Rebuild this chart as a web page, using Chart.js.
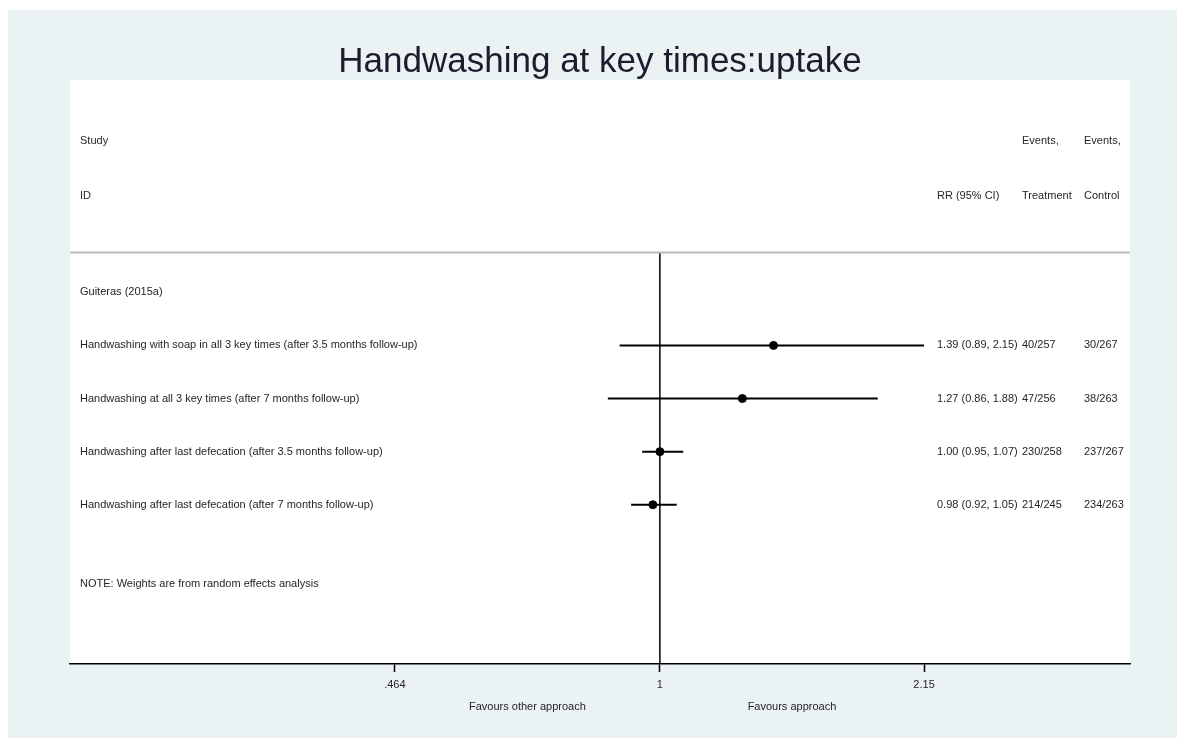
<!DOCTYPE html>
<html>
<head>
<meta charset="utf-8">
<title>Handwashing at key times:uptake</title>
<script src="https://cdn.jsdelivr.net/npm/chart.js@4.4.0/dist/chart.umd.min.js"></script>
<style>
  html, body { margin: 0; padding: 0; background: #fff; }
  #wrap { width: 1177px; height: 738px; position: relative; }
</style>
</head>
<body>
<div id="wrap"><canvas id="forest"></canvas></div>
<script>
// --- data ---
const studyName = 'Guiteras (2015a)';
const outcomes = [
    'Handwashing with soap in all 3 key times (after 3.5 months follow-up)',
    'Handwashing at all 3 key times (after 7 months follow-up)',
    'Handwashing after last defecation (after 3.5 months follow-up)',
    'Handwashing after last defecation (after 7 months follow-up)'
];
const rr = [1.39, 1.27, 1.00, 0.98];
const ciLow = [0.89, 0.86, 0.95, 0.92];
const ciHigh = [2.15, 1.88, 1.07, 1.05];
const eventsTreatment = ['40/257', '47/256', '230/258', '214/245'];
const eventsControl = ['30/267', '38/263', '237/267', '234/263'];
const tickValues = [0.464, 1, 2.15];
const tickLabels = ['.464', '1', '2.15'];
const favourLabels = ['Favours other approach', 'Favours approach'];
const noteText = 'NOTE: Weights are from random effects analysis';
const titleText = 'Handwashing at key times:uptake';

const X_MIN = 0.181, X_MAX = 3.905;
const Y_TOP = 11;
const SEP_Y = 7.75;
const FONT = '"Liberation Sans", Arial, sans-serif';

// rows go from the top down, first outcome on row 6
const rowY = i => 6 - i;

const datasets = [];

// grey line under the header
datasets.push({
    type: 'line',
    data: [{ x: X_MIN, y: SEP_Y }, { x: X_MAX, y: SEP_Y }],
    borderColor: '#b9b9b9', borderWidth: 2, pointRadius: 0
});

// line of no effect
datasets.push({
    type: 'line',
    data: [{ x: 1, y: 0 }, { x: 1, y: SEP_Y }],
    borderColor: '#000', borderWidth: 1.5, pointRadius: 0
});

// confidence intervals
outcomes.forEach((o, i) => {
    datasets.push({
        type: 'line',
        data: [{ x: ciLow[i], y: rowY(i) }, { x: ciHigh[i], y: rowY(i) }],
        borderColor: '#000', borderWidth: 2, pointRadius: 0
    });
});

// point estimates
datasets.push({
    type: 'scatter',
    data: rr.map((v, i) => ({ x: v, y: rowY(i) })),
    backgroundColor: '#000', borderColor: '#000', pointRadius: 4
});

const textPlugin = {
    id: 'forestText',
    beforeDraw(chart) {
        const { ctx, chartArea: a } = chart;
        ctx.save();
        ctx.fillStyle = '#fff';
        ctx.fillRect(0, 0, chart.width, chart.height);
        ctx.fillStyle = '#eaf2f3';
        ctx.fillRect(8, 10, chart.width - 8, chart.height - 10);
        ctx.fillStyle = '#fff';
        ctx.fillRect(a.left, a.top, a.right - a.left, a.bottom - a.top);
        ctx.restore();
    },
    afterDatasetsDraw(chart) {
        const { ctx, chartArea: a } = chart;
        const xs = chart.scales.x, ys = chart.scales.y;
        ctx.save();

        // title
        ctx.fillStyle = '#1c1c2c';
        ctx.font = '35px ' + FONT;
        ctx.textAlign = 'center';
        ctx.textBaseline = 'alphabetic';
        ctx.fillText(titleText, (a.left + a.right) / 2, 72);

        ctx.fillStyle = '#262626';
        ctx.font = '11px ' + FONT;
        ctx.textAlign = 'left';
        ctx.textBaseline = 'middle';

        const colLeft = a.left + 10;
        const colRR = a.left + 867;
        const colT = a.left + 952;
        const colC = a.left + 1014;

        // header
        ctx.fillText('Study', colLeft, ys.getPixelForValue(9.85));
        ctx.fillText('ID', colLeft, ys.getPixelForValue(8.82));
        ctx.fillText('Events,', colT, ys.getPixelForValue(9.85));
        ctx.fillText('Events,', colC, ys.getPixelForValue(9.85));
        ctx.fillText('RR (95% CI)', colRR, ys.getPixelForValue(8.82));
        ctx.fillText('Treatment', colT, ys.getPixelForValue(8.82));
        ctx.fillText('Control', colC, ys.getPixelForValue(8.82));

        ctx.fillText(studyName, colLeft, ys.getPixelForValue(7));

        outcomes.forEach((o, i) => {
            const y = ys.getPixelForValue(rowY(i));
            ctx.fillText(o, colLeft, y);
            const est = rr[i].toFixed(2) + ' (' + ciLow[i].toFixed(2) + ', ' + ciHigh[i].toFixed(2) + ')';
            ctx.fillText(est, colRR, y);
            ctx.fillText(eventsTreatment[i], colT, y);
            ctx.fillText(eventsControl[i], colC, y);
        });

        ctx.fillText(noteText, colLeft, ys.getPixelForValue(1.5));

        // favours labels, centred between the outer ticks and 1
        ctx.textAlign = 'center';
        const fy = a.bottom + 43;
        ctx.fillText(favourLabels[0], xs.getPixelForValue(Math.sqrt(tickValues[0])), fy);
        ctx.fillText(favourLabels[1], xs.getPixelForValue(Math.sqrt(tickValues[2])), fy);

        ctx.restore();
    }
};

new Chart(document.getElementById('forest'), {
    type: 'scatter',
    data: { datasets: datasets },
    options: {
        responsive: true,
        maintainAspectRatio: false,
        animation: false,
        layout: { padding: { left: 70, right: 47, top: 80, bottom: 0 } },
        plugins: {
            legend: { display: false },
            tooltip: { enabled: false },
            title: { display: false }
        },
        scales: {
            x: {
                type: 'logarithmic',
                min: X_MIN,
                max: X_MAX,
                afterBuildTicks: scale => {
                    scale.ticks = tickValues.map(v => ({ value: v }));
                },
                afterFit: scale => { scale.height = 74; },
                ticks: {
                    autoSkip: false,
                    maxRotation: 0,
                    padding: 6,
                    color: '#262626',
                    font: { family: FONT, size: 11 },
                    callback: (v, i) => tickLabels[i]
                },
                grid: {
                    drawOnChartArea: false,
                    drawTicks: true,
                    tickLength: 8,
                    tickColor: '#000',
                    tickWidth: 1.5
                },
                border: { display: true, color: '#000', width: 1.5 }
            },
            y: {
                type: 'linear',
                display: false,
                min: 0,
                max: Y_TOP
            }
        }
    },
    plugins: [textPlugin]
});
</script>
</body>
</html>
